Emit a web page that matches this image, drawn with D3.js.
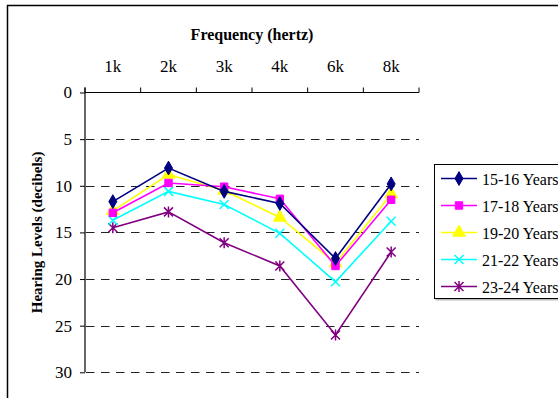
<!DOCTYPE html>
<html>
<head>
<meta charset="utf-8">
<script src="https://cdn.jsdelivr.net/npm/d3@7"></script>
<style>
  body { margin: 0; background: #fff; }
  svg text { font-family: 'Times New Roman', 'Liberation Serif', Times, 'DejaVu Serif', serif; fill: #000; }
</style>
</head>
<body>
<div id="chart"></div>
<script>
// data
var frequencies = ['1k', '2k', '3k', '4k', '6k', '8k'];
var y_ticks     = [0, 5, 10, 15, 20, 25, 30];
var series_names = ['15-16 Years', '17-18 Years', '19-20 Years', '21-22 Years', '23-24 Years'];
var levels_15_16 = [11.7, 8.1, 10.6, 11.9, 17.8, 9.8];
var levels_17_18 = [12.9, 9.7, 10.1, 11.4, 18.6, 11.5];
var levels_19_20 = [12.7, 8.8, 10.5, 13.4, 18.3, 10.9];
var levels_21_22 = [13.7, 10.6, 12.0, 15.1, 20.3, 13.8];
var levels_23_24 = [14.5, 12.8, 16.1, 18.6, 26.0, 17.1];

var series = [
    {name: series_names[0], values: levels_15_16, color: '#000080', marker: 'diamond'},
    {name: series_names[1], values: levels_17_18, color: '#FF00FF', marker: 'square'},
    {name: series_names[2], values: levels_19_20, color: '#FFFF00', marker: 'triangle'},
    {name: series_names[3], values: levels_21_22, color: '#00FFFF', marker: 'x'},
    {name: series_names[4], values: levels_23_24, color: '#800080', marker: 'star'}
];

var chart_width  = 558;
var chart_height = 398;
var plot_left    = 85;
var plot_right   = 419;
var plot_top     = 92.5;
var plot_bottom  = 372.3;

var svg = d3.select('#chart')
    .append('svg')
    .attr('width', chart_width)
    .attr('height', chart_height);

// outer chart frame (right and bottom run off the picture)
svg.append('rect')
    .attr('x', 7.5)
    .attr('y', 5.5)
    .attr('width', 600)
    .attr('height', 450)
    .attr('fill', 'none')
    .attr('stroke', '#000')
    .attr('stroke-width', 1.5);

// scales
var x_scale = d3.scaleBand()
    .domain(frequencies)
    .range([plot_left, plot_right]);

var y_scale = d3.scaleLinear()
    .domain([0, 30])
    .range([plot_top, plot_bottom]);

var cx = function(i){
    return x_scale(frequencies[i]) + x_scale.bandwidth() / 2;
};

// gridlines
svg.append('g')
    .selectAll('line')
    .data(y_ticks.slice(1))
    .enter()
    .append('line')
    .attr('x1', plot_left)
    .attr('x2', plot_right)
    .attr('y1', function(d){ return Math.round(y_scale(d)) + 0.5; })
    .attr('y2', function(d){ return Math.round(y_scale(d)) + 0.5; })
    .attr('stroke', '#222')
    .attr('stroke-width', 1)
    .attr('stroke-dasharray', '8.5,6.5')
    .attr('stroke-dashoffset', -1);

// y axis
var y_axis = d3.axisLeft(y_scale)
    .tickValues(y_ticks)
    .tickSize(5)
    .tickPadding(8);

var y_g = svg.append('g')
    .attr('transform', 'translate(' + plot_left + ',0)')
    .call(y_axis)
    .attr('font-family', null);
y_g.select('.domain').remove();
y_g.selectAll('text')
    .attr('font-size', 17)
    .attr('fill', '#000');
y_g.selectAll('line').attr('stroke', '#000');

svg.append('line')
    .attr('x1', plot_left)
    .attr('x2', plot_left)
    .attr('y1', plot_top - 5)
    .attr('y2', plot_bottom)
    .attr('stroke', '#000')
    .attr('stroke-width', 1.2);

// x axis on top
svg.append('line')
    .attr('x1', plot_left)
    .attr('x2', plot_right)
    .attr('y1', plot_top)
    .attr('y2', plot_top)
    .attr('stroke', '#000')
    .attr('stroke-width', 1.2);

var x_edges = frequencies.map(function(d){ return x_scale(d); }).concat([plot_right]);
svg.append('g')
    .selectAll('line')
    .data(x_edges)
    .enter()
    .append('line')
    .attr('x1', function(d){ return d; })
    .attr('x2', function(d){ return d; })
    .attr('y1', plot_top - 5)
    .attr('y2', plot_top)
    .attr('stroke', '#000')
    .attr('stroke-width', 1);

svg.append('g')
    .selectAll('text')
    .data(frequencies)
    .enter()
    .append('text')
    .text(function(d){ return d; })
    .attr('x', function(d){ return x_scale(d) + x_scale.bandwidth() / 2; })
    .attr('y', 72)
    .attr('font-size', 17)
    .attr('text-anchor', 'middle');

// axis titles
svg.append('text')
    .text('Frequency (hertz)')
    .attr('x', (plot_left + plot_right) / 2)
    .attr('y', 40)
    .attr('font-size', 16)
    .attr('font-weight', 'bold')
    .attr('text-anchor', 'middle');

svg.append('text')
    .text('Hearing Levels (decibels)')
    .attr('transform', 'translate(42,' + (plot_top + plot_bottom) / 2 + ') rotate(-90)')
    .attr('font-size', 15)
    .attr('font-weight', 'bold')
    .attr('text-anchor', 'middle');

// markers
var draw_marker = function(g, type, color){
    if (type === 'diamond') {
        g.append('path')
            .attr('d', d3.symbol().type(d3.symbolDiamond).size(55)())
            .attr('fill', color).attr('stroke', color);
    } else if (type === 'square') {
        g.append('path')
            .attr('d', d3.symbol().type(d3.symbolSquare).size(55)())
            .attr('fill', color).attr('stroke', color);
    } else if (type === 'triangle') {
        g.append('path')
            .attr('d', d3.symbol().type(d3.symbolTriangle).size(70)())
            .attr('fill', color).attr('stroke', color);
    } else if (type === 'x') {
        g.append('path')
            .attr('d', 'M-4.5,-4.5L4.5,4.5M-4.5,4.5L4.5,-4.5')
            .attr('fill', 'none').attr('stroke', color).attr('stroke-width', 1.5);
    } else {
        g.append('path')
            .attr('d', 'M-4.5,-4.5L4.5,4.5M-4.5,4.5L4.5,-4.5M0,-5.5L0,5.5')
            .attr('fill', 'none').attr('stroke', color).attr('stroke-width', 1.5);
    }
};

var line = d3.line()
    .x(function(d, i){ return cx(i); })
    .y(function(d){ return y_scale(d); });

// draw last series first so 15-16 sits on top
series.slice().reverse().forEach(function(s){
    svg.append('path')
        .attr('d', line(s.values))
        .attr('fill', 'none')
        .attr('stroke', s.color)
        .attr('stroke-width', 1.6);

    svg.append('g')
        .selectAll('g')
        .data(s.values)
        .enter()
        .append('g')
        .attr('transform', function(d, i){
            return 'translate(' + cx(i) + ',' + y_scale(d) + ')';
        })
        .each(function(){
            draw_marker(d3.select(this), s.marker, s.color);
        });
});

// legend
var legend_x = 434;
var legend_y = 164;
svg.append('rect')
    .attr('x', legend_x + 1.5)
    .attr('y', legend_y + 1.5)
    .attr('width', 200)
    .attr('height', 135)
    .attr('fill', '#bbb');
svg.append('rect')
    .attr('x', legend_x + 0.5)
    .attr('y', legend_y + 0.5)
    .attr('width', 200)
    .attr('height', 134)
    .attr('fill', '#fff')
    .attr('stroke', '#000')
    .attr('stroke-width', 1);

var legend_items = svg.append('g')
    .selectAll('g')
    .data(series)
    .enter()
    .append('g')
    .attr('transform', function(d, i){
        return 'translate(' + legend_x + ',' + (legend_y + 14.5 + i * 27) + ')';
    });

legend_items.append('line')
    .attr('x1', 7)
    .attr('x2', 43)
    .attr('stroke', function(d){ return d.color; })
    .attr('stroke-width', 1.6);

legend_items.each(function(d){
    var g = d3.select(this).append('g').attr('transform', 'translate(25,0)');
    draw_marker(g, d.marker, d.color);
});

legend_items.append('text')
    .text(function(d){ return d.name; })
    .attr('x', 48)
    .attr('y', 6)
    .attr('font-size', 16);
</script>
</body>
</html>
